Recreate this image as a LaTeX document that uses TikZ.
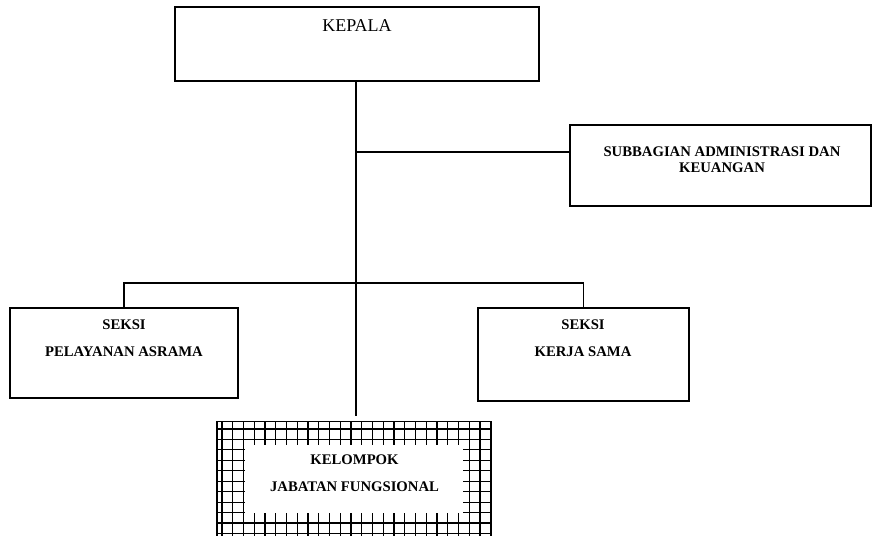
\documentclass[tikz,border=0pt]{standalone}
\usepackage{fontspec}
\setmainfont{Liberation Serif}
\begin{document}
\begin{tikzpicture}[x=1pt,y=-1pt,
  box/.style={draw,line width=1.1pt,rectangle,inner sep=0pt},
  bt/.style={font=\fontsize{14.7}{17}\selectfont\bfseries,inner sep=0pt},
  ln/.style={line width=1.1pt},
  gridline/.style={line width=1.15pt,black}]
\useasboundingbox (0,0) rectangle (872,535);
\clip (0,0) rectangle (872,535);
% boxes
\node[box,minimum width=364pt,minimum height=74pt] (kepala) at (357,44) {};
\node[font=\fontsize{18}{22}\selectfont,inner sep=0pt] (tkepala) at (357,26) {KEPALA};
\node[box,minimum width=301pt,minimum height=81pt] (sub) at (720.5,165.5) {};
\node[bt] (tsub1) at (722,152) {SUBBAGIAN ADMINISTRASI DAN};
\node[bt] (tsub2) at (722,168) {KEUANGAN};
\node[box,minimum width=228pt,minimum height=90pt] (kiri) at (124,353) {};
\node[bt] (tkiri1) at (124,325) {SEKSI};
\node[bt] (tkiri2) at (124,352) {PELAYANAN ASRAMA};
\node[box,minimum width=211pt,minimum height=93pt] (kanan) at (583.5,354.5) {};
\node[bt] (tkanan1) at (583,325) {SEKSI};
\node[bt] (tkanan2) at (583,352) {KERJA SAMA};
% kelompok with grid frame
\node[box,minimum width=274pt,minimum height=124pt] (klp) at (354,483.7) {};
\begin{scope}
  \clip (klp.south west) rectangle (klp.north east);
  \foreach \i in {0,...,25} \draw[gridline] (222+\i*10.75,420) -- (222+\i*10.75,550);
  \foreach \j in {0,...,12} \draw[gridline] (216,429+\j*10.45) -- (492,429+\j*10.45);
\end{scope}
\fill[white] (245,445) rectangle (463,513);
\draw[line width=1.3pt] (klp.south west) rectangle (klp.north east);
\node[bt] (tklp1) at (354.5,460) {KELOMPOK};
\node[bt] (tklp2) at (354.5,487) {JABATAN FUNGSIONAL};
% connectors
\coordinate (sp) at (356,0);
\coordinate (j1) at (356,152);
\coordinate (j2) at (356,283);
\draw[ln,shorten >=5.5pt] (kepala.south -| sp) -- (klp.north -| sp);
\draw[ln] (j1) -- (j1 -| sub.west);
\draw[ln] (kiri.north) -- (kiri.north |- j2) -- (kanan.north |- j2) -- (kanan.north);
\end{tikzpicture}
\end{document}
